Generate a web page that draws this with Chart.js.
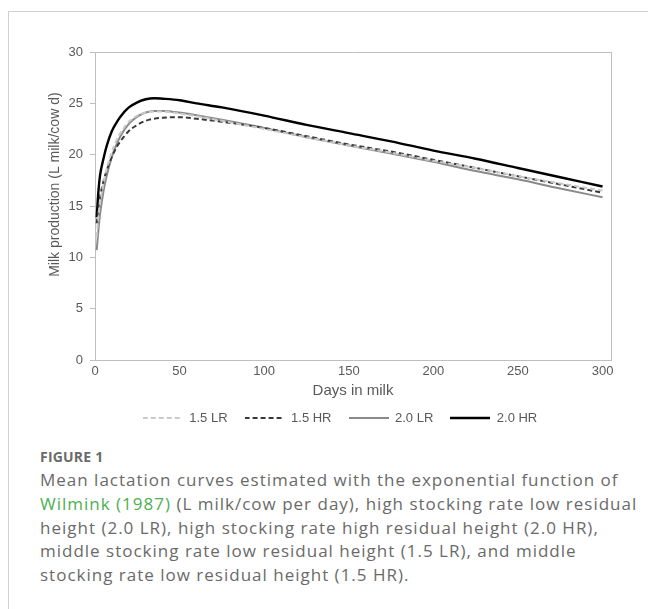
<!DOCTYPE html>
<html>
<head>
<meta charset="utf-8">
<script src="https://cdn.jsdelivr.net/npm/chart.js@4.4.1/dist/chart.umd.min.js"></script>
<style>
  html, body { margin: 0; padding: 0; background: #fff; }
  body { width: 648px; height: 609px; position: relative; overflow: hidden; }
  #frame { position: absolute; left: 8px; top: 11px; width: 640px; height: 598px;
           border-top: 1px solid #d0d0d0; border-left: 1px solid #d0d0d0; }
  #chartWrap { position: absolute; left: 0; top: 0; width: 648px; height: 440px; }
  #cap { position: absolute; left: 40px; top: 446px; width: 608px;
         font-family: "Open Sans", sans-serif; color: #6a6a6a; }
  #fig { font-weight: 700; font-size: 14px; line-height: 22px; letter-spacing: 0.2px; }
  .ln { font-size: 17px; line-height: 23.8px; white-space: nowrap; letter-spacing: 1px; }
  .lk { color: #4cb050; }
</style>
</head>
<body>
<div id="frame"></div>
<div id="chartWrap"><canvas id="c" width="648" height="440"></canvas></div>
<div id="cap">
  <div id="fig">FIGURE 1</div>
  <div class="ln">Mean lactation curves estimated with the exponential function of</div>
  <div class="ln"><span class="lk">Wilmink (1987)</span> (L milk/cow per day), high stocking rate low residual</div>
  <div class="ln">height (2.0 LR), high stocking rate high residual height (2.0 HR),</div>
  <div class="ln">middle stocking rate low residual height (1.5 LR), and middle</div>
  <div class="ln">stocking rate low residual height (1.5 HR).</div>
</div>
<script>
// Days in milk at which the curves were read
const days = [1, 2, 3, 5, 7, 10, 13, 15, 20, 25, 30, 35, 40, 50, 60, 75, 100, 125, 150, 175, 200, 225, 250, 275, 300];

// Milk production (L milk/cow d)
const lr15 = [12.0, 13.9, 15.3, 17.2, 18.7, 20.3, 21.5, 22.1, 23.2, 23.8, 24.1, 24.2, 24.2, 24.0, 23.75, 23.3, 22.5, 21.7, 20.9, 20.2, 19.4, 18.7, 17.9, 17.2, 16.5];
const hr15 = [13.3, 14.8, 15.9, 17.4, 18.5, 19.8, 20.8, 21.3, 22.3, 22.9, 23.3, 23.5, 23.6, 23.65, 23.5, 23.2, 22.6, 21.8, 21.0, 20.3, 19.5, 18.7, 17.9, 17.1, 16.3];
const lr20 = [10.7, 12.6, 14.2, 16.4, 18.0, 19.8, 21.1, 21.8, 23.0, 23.7, 24.1, 24.25, 24.25, 24.1, 23.85, 23.4, 22.6, 21.7, 20.9, 20.1, 19.3, 18.4, 17.6, 16.7, 15.85];
const hr20 = [13.9, 16.4, 18.0, 19.6, 20.9, 22.3, 23.2, 23.7, 24.6, 25.1, 25.4, 25.5, 25.45, 25.3, 25.0, 24.6, 23.8, 22.9, 22.1, 21.3, 20.4, 19.6, 18.7, 17.8, 16.9];

const seriesNames = ["1.5 LR", "1.5 HR", "2.0 LR", "2.0 HR"];
const xTicks = [0, 50, 100, 150, 200, 250, 300];
const yTicks = [0, 5, 10, 15, 20, 25, 30];

const toXY = arr => days.map((d, i) => ({ x: d, y: arr[i] }));

const styles = [
  { color: "#c9c9c9", dash: [5, 3], width: 2 },
  { color: "#3a3a3a", dash: [5, 3], width: 2 },
  { color: "#8a8a8a", dash: [], width: 2 },
  { color: "#000000", dash: [], width: 2.4 }
];
const values = [lr15, hr15, lr20, hr20];

// legend key: a short line sample in each series' own style
function lineIcon(st) {
  const cv = document.createElement("canvas");
  cv.width = 40; cv.height = 4;
  const g = cv.getContext("2d");
  g.strokeStyle = st.color;
  g.lineWidth = st.width;
  g.setLineDash(st.dash);
  g.beginPath(); g.moveTo(0, 2); g.lineTo(40, 2); g.stroke();
  return cv;
}

const datasets = values.map((v, i) => ({
  label: seriesNames[i],
  data: toXY(v),
  borderColor: styles[i].color,
  backgroundColor: styles[i].color,
  borderDash: styles[i].dash,
  borderWidth: styles[i].width,
  pointRadius: 0,
  pointStyle: lineIcon(styles[i]),
  cubicInterpolationMode: "monotone",
  fill: false,
  xAxisID: "x",
  yAxisID: "y"
}));

const axisGray = "#bfbfbf";
const tickGray = "#595959";
const fam = "'Liberation Sans', Arial, sans-serif";

const chart = new Chart(document.getElementById("c"), {
  type: "line",
  data: { datasets },
  options: {
    responsive: false,
    animation: false,
    devicePixelRatio: 1,
    layout: { padding: { left: 47, right: 15, top: 52, bottom: 5.5 } },
    plugins: {
      tooltip: { enabled: false },
      legend: {
        position: "bottom",
        labels: {
          usePointStyle: true,
          pointStyleWidth: 40,
          padding: 17,
          color: tickGray,
          font: { family: fam, size: 13 }
        }
      }
    },
    scales: {
      x: {
        type: "linear",
        position: "bottom",
        min: 0,
        max: 305,
        afterBuildTicks: s => { s.ticks = xTicks.map(v => ({ value: v })); },
        ticks: { color: tickGray, font: { family: fam, size: 13 }, padding: 4, maxRotation: 0 },
        grid: { display: false, drawTicks: false },
        border: { display: true, color: axisGray, width: 1 },
        title: { display: true, text: "Days in milk", color: tickGray,
                 font: { family: fam, size: 15 }, padding: { top: 0, bottom: -5.5 } },
        afterFit: s => { s.height = 34.5; }
      },
      x2: {
        type: "linear",
        axis: "x",
        position: "top",
        min: 0, max: 305,
        ticks: { display: false },
        grid: { display: false, drawTicks: false },
        border: { display: true, color: axisGray, width: 1 }
      },
      y: {
        type: "linear",
        position: "left",
        min: 0,
        max: 30,
        afterBuildTicks: s => { s.ticks = yTicks.map(v => ({ value: v })); },
        ticks: { color: tickGray, font: { family: fam, size: 13 }, padding: 7 },
        grid: { display: true, drawOnChartArea: false, drawTicks: true, tickLength: 5, tickColor: axisGray },
        border: { display: true, color: axisGray, width: 1 },
        title: { display: true, text: "           Milk production (L milk/cow d)", color: tickGray,
                 font: { family: fam, size: 14 }, padding: { top: 0, bottom: 0 } },
        afterFit: s => { s.width = 48; }
      },
      y2: {
        type: "linear",
        axis: "y",
        position: "right",
        min: 0, max: 30,
        ticks: { display: false },
        grid: { display: false, drawTicks: false },
        border: { display: true, color: axisGray, width: 1 },
        afterFit: s => { s.width = 22; }
      }
    }
  }
});
</script>
</body>
</html>
